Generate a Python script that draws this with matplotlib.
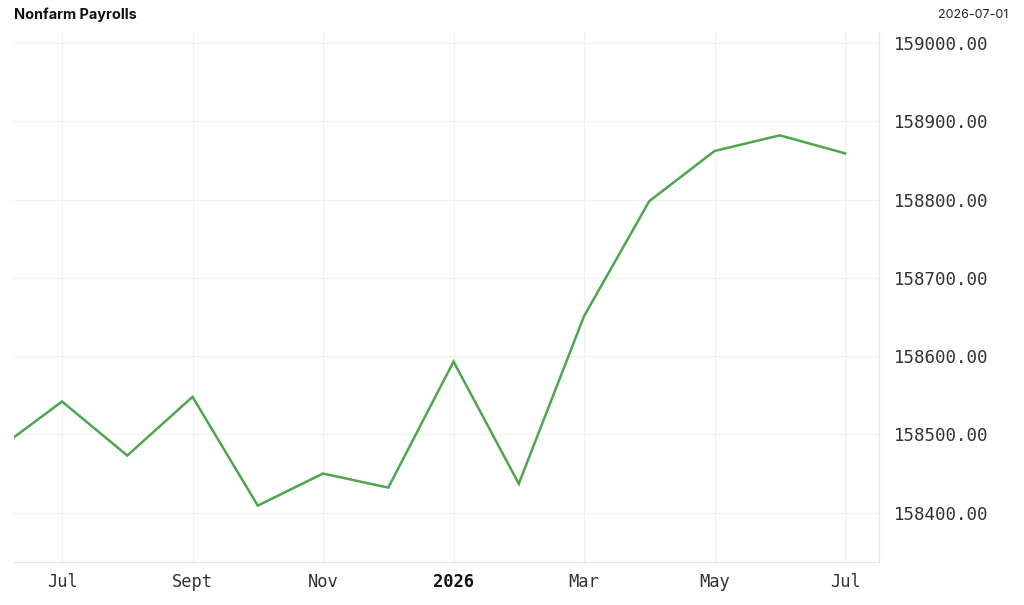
import matplotlib
matplotlib.use("Agg")
import matplotlib.pyplot as plt
import numpy as np

dates = ["2025-06", "2025-07", "2025-08", "2025-09", "2025-10",
         "2025-11", "2025-12", "2026-01", "2026-02", "2026-03",
         "2026-04", "2026-05", "2026-06", "2026-07"]
values = [158480, 158542, 158473, 158548, 158409, 158450, 158432, 158593,
          158437, 158651, 158798, 158862, 158882, 158859]
tick_dates = ["2025-07", "2025-09", "2025-11", "2026-01",
              "2026-03", "2026-05", "2026-07"]
tick_labels = ["Jul", "Sept", "Nov", "2026", "Mar", "May", "Jul"]
y_ticks = [158400, 158500, 158600, 158700, 158800, 158900, 159000]
title = "Nonfarm Payrolls"
date_label = "2026-07-01"


def month_index(s):
    y, m = s.split("-")
    return (int(y) - 2025) * 12 + int(m) - 6


x = [month_index(d) for d in dates]
xt = [month_index(d) for d in tick_dates]

fig = plt.figure(figsize=(10.24, 6.05), dpi=100)
ax = fig.add_axes([14/1024, 1 - 562/605, (879-14)/1024, (562-32)/605])

ax.plot(x, values, color="#4ea64e", linewidth=1.8, solid_joinstyle="miter")

ax.set_xlim(0.264, 13.52)
ax.set_ylim(158337, 159014)

ax.set_xticks(xt)
ax.set_xticklabels(tick_labels)
ax.set_yticks(y_ticks)
ax.set_yticklabels([f"{v:.2f}" for v in y_ticks])
ax.yaxis.tick_right()

mono = "DejaVu Sans Mono"
for lab in ax.get_xticklabels():
    lab.set_fontfamily(mono)
    lab.set_fontsize(12.3)
    lab.set_color("#333333")
    if lab.get_text() == "2026":
        lab.set_fontweight("bold")
        lab.set_color("#111111")
for lab in ax.get_yticklabels():
    lab.set_fontfamily(mono)
    lab.set_fontsize(12.6)
    lab.set_color("#333333")

ax.tick_params(axis="both", length=0)
ax.tick_params(axis="x", pad=8)
ax.tick_params(axis="y", pad=11)

ax.grid(True, color="#f0f0f0", linewidth=0.9)
ax.set_axisbelow(True)
for side in ["top", "left"]:
    ax.spines[side].set_visible(False)
for side in ["bottom", "right"]:
    ax.spines[side].set_color("#e6e6e6")
    ax.spines[side].set_linewidth(0.9)

fig.text(14/1024, 1 - 15/605, title, fontsize=10.4, fontweight="bold",
         color="#111111", family="Inter", va="center", ha="left")
fig.text(1008/1024, 1 - 15/605, date_label, fontsize=9,
         color="#222222", family="Inter", va="center", ha="right")

fig.savefig("out.png", dpi=100)
